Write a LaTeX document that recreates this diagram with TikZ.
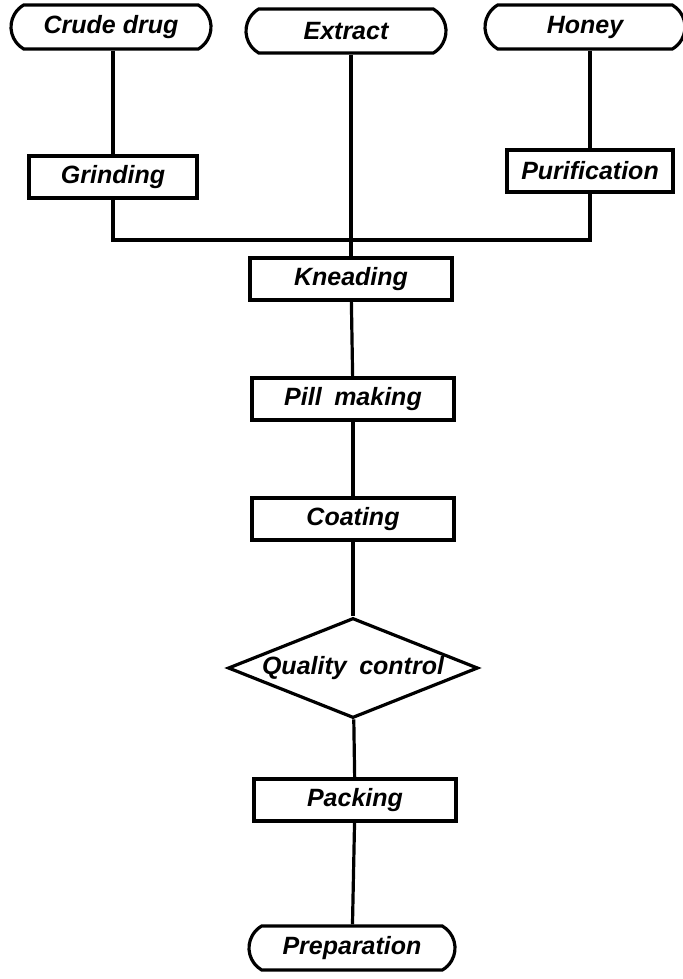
\documentclass[tikz,border=0pt]{standalone}
\usepackage{fontspec}
\setmainfont{Liberation Sans}
\usepackage{tikz}
\usetikzlibrary{shapes.geometric, shapes.misc, positioning}

\begin{document}
\begin{tikzpicture}[
    x=0.5pt, y=-0.5pt,
    line width=1.6pt,
    every node/.style={font=\fontsize{12.5}{15}\selectfont\bfseries\itshape},
    stepbox/.style={
        rectangle, draw=black, line width=1.6pt,
        minimum width=101pt, minimum height=21pt,
        inner sep=0pt, text centered
    },
    terminal/.style={
        rounded rectangle, draw=black, line width=1.6pt,
        rounded rectangle arc length=120,
        minimum width=100pt, minimum height=22pt,
        inner sep=0pt, text centered
    },
    decision/.style={
        diamond, draw=black, line width=1.6pt,
        minimum width=125pt, minimum height=50pt,
        aspect=2.5, inner sep=0pt, text centered
    },
    link/.style={line width=1.6pt},
]
\useasboundingbox (0,0) rectangle (683,979);

%% Ingressi
\node[terminal] (crude) at (111,27) {Crude drug};
\node[terminal] (extract) at (346,31) {Extract};
\node[terminal] (honey) at (585,27) {Honey};

%% Pre-trattamento
\node[stepbox, minimum width=84pt] (grind) at (113,177) {Grinding};
\node[stepbox, minimum width=83pt] (purif) at (590,171) {Purification};

%% Linea principale
\node[stepbox] (knead) at (351,279) {Kneading};
\node[stepbox] (pill) at (353,399) {Pill\enspace making};
\node[stepbox] (coat) at (353,519) {Coating};
\node[decision] (qc) at (353,668) {Quality\enspace control};
\node[stepbox] (pack) at (355,800) {Packing};
\node[terminal, minimum width=103pt] (prep) at (352,948) {Preparation};

%% Punto di unione
\coordinate (join) at (351,240);

%% Collegamenti
\draw[link] (crude.south -| grind.north) -- (grind.north);
\draw[link] (honey.south -| purif.north) -- (purif.north);
\draw[link] (grind.south) |- (join) -| (purif.south);
\draw[link] (extract.south -| knead.north) -- (knead.north);
\draw[link] (knead) -- (pill);
\draw[link] (pill) -- (coat);
\draw[link] (coat) -- (qc);
\draw[link] (qc) -- (pack);
\draw[link] (pack) -- (prep);

\end{tikzpicture}
\end{document}
